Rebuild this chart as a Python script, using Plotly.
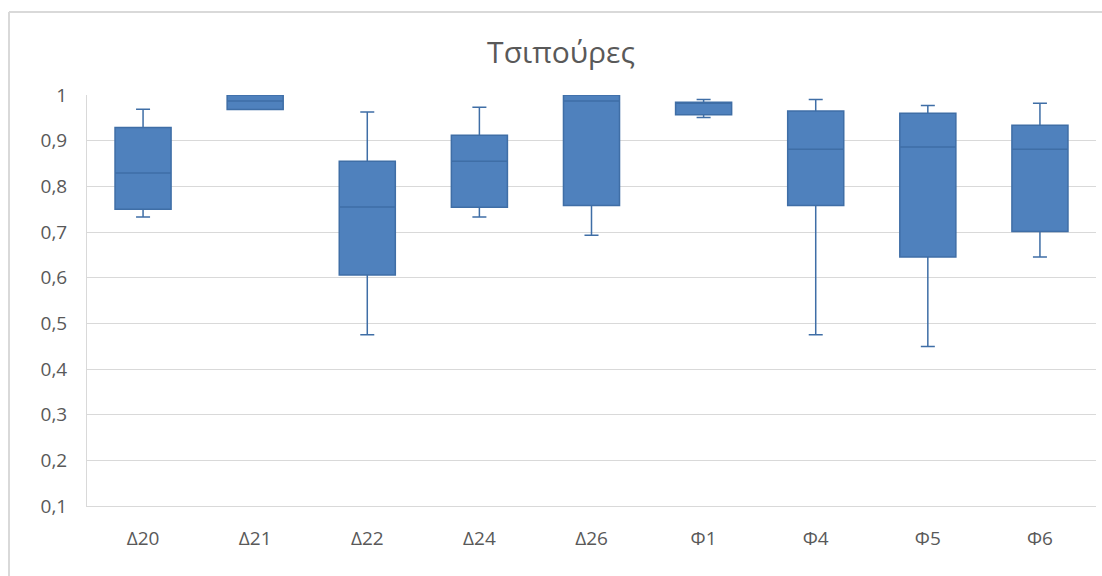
import plotly.graph_objects as go

# Sampling sites and their box-and-whisker statistics
sites = ["Δ20", "Δ21", "Δ22", "Δ24", "Δ26", "Φ1", "Φ4", "Φ5", "Φ6"]
lower_whisker = [0.733, 0.968, 0.475, 0.733, 0.693, 0.951, 0.475, 0.449, 0.645]
q1_values     = [0.750, 0.968, 0.606, 0.754, 0.758, 0.957, 0.758, 0.645, 0.701]
median_values = [0.829, 0.987, 0.755, 0.855, 0.987, 0.984, 0.881, 0.886, 0.881]
q3_values     = [0.929, 1.000, 0.855, 0.912, 1.000, 0.984, 0.965, 0.960, 0.934]
upper_whisker = [0.969, 1.000, 0.963, 0.973, 1.000, 0.990, 0.990, 0.977, 0.982]

y_ticks = [0.1, 0.2, 0.3, 0.4, 0.5, 0.6, 0.7, 0.8, 0.9, 1.0]
y_tick_text = ["0,1", "0,2", "0,3", "0,4", "0,5", "0,6", "0,7", "0,8", "0,9", "1"]

FONT = "Open Sans"
GREY_TEXT = "#595959"
GRID = "#d9d9d9"

fig = go.Figure()
fig.add_trace(go.Box(
    x=sites,
    lowerfence=lower_whisker,
    q1=q1_values,
    median=median_values,
    q3=q3_values,
    upperfence=upper_whisker,
    fillcolor="#4f81bd",
    line=dict(color="#3f6ea6", width=1.5),
    whiskerwidth=0.25,
    boxpoints=False,
    hoverinfo="skip",
))

# Outer chart frame (left and top edges)
fig.add_shape(type="line", xref="paper", yref="paper",
              x0=(9 - 87) / 1009, x1=1.05, y0=(506 - 12) / 411, y1=(506 - 12) / 411,
              line=dict(color=GRID, width=2))
fig.add_shape(type="line", xref="paper", yref="paper",
              x0=(9 - 87) / 1009, x1=(9 - 87) / 1009, y0=(506 - 12) / 411, y1=-0.3,
              line=dict(color=GRID, width=2))

fig.update_layout(
    width=1102, height=576,
    margin=dict(l=87, r=6, t=95, b=70),
    paper_bgcolor="white", plot_bgcolor="white",
    showlegend=False,
    boxgap=0.5, boxgroupgap=0,
    separators=", ",
    title=dict(text="Τσιπούρες", x=(561) / 1102, xanchor="center",
               y=1 - 52 / 576, yanchor="middle",
               font=dict(family=FONT, size=30, color=GREY_TEXT)),
    font=dict(family=FONT, size=19, color=GREY_TEXT),
)
fig.update_yaxes(
    range=[0.1, 1.0], tickvals=y_ticks, ticktext=y_tick_text,
    showgrid=True, gridcolor=GRID, gridwidth=1,
    showline=True, linecolor=GRID, linewidth=1,
    zeroline=False, ticks="", ticklabelstandoff=15,
    tickfont=dict(family=FONT, size=19, color=GREY_TEXT),
)
fig.update_xaxes(
    showline=True, linecolor=GRID, linewidth=1, ticks="",
    ticklabelstandoff=15,
    tickfont=dict(family=FONT, size=19, color=GREY_TEXT),
)

fig.write_html("out.html")
